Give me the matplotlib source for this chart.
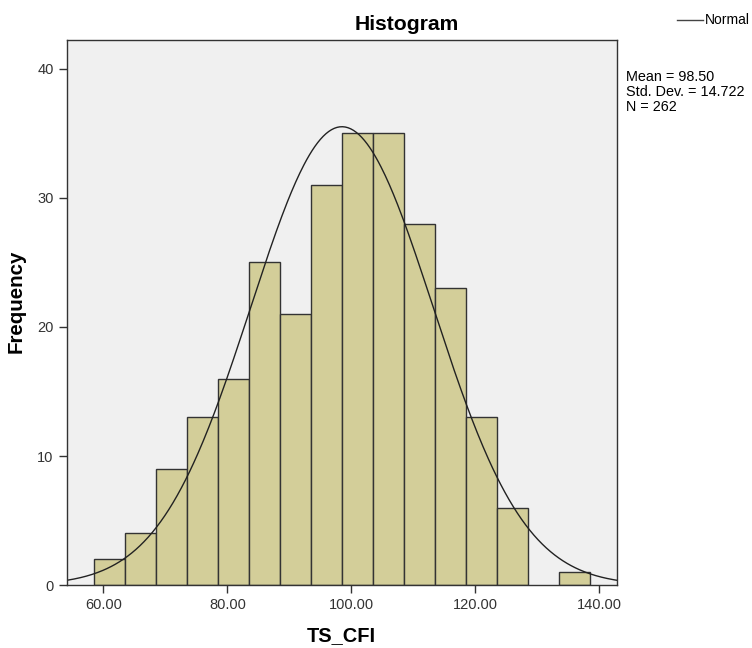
import numpy as np
import matplotlib
matplotlib.use("Agg")
import matplotlib.pyplot as plt

plt.rcParams['font.family'] = ['Liberation Sans', 'DejaVu Sans']

bin_edges = [58.5 + 5 * i for i in range(17)]
counts = [2, 4, 9, 13, 16, 25, 21, 31, 35, 35, 28, 23, 13, 6, 0, 1]
mean = 98.50
std = 14.722
n = 262
xticks = [60, 80, 100, 120, 140]
xticklabels = ["60.00", "80.00", "100.00", "120.00", "140.00"]
yticks = [0, 10, 20, 30, 40]

fig = plt.figure(figsize=(7.52, 6.48), dpi=100)
ax = fig.add_axes([0.089, 0.097, 0.731, 0.841])
ax.set_facecolor('#F0F0F0')

lefts = bin_edges[:-1]
widths = np.diff(bin_edges)
for l, w, c in zip(lefts, widths, counts):
    if c > 0:
        ax.bar(l, c, width=w, align='edge', color='#D3CE99', edgecolor='#333333', linewidth=1.0)

xs = np.linspace(54.1, 142.85, 400)
binw = 5
ys = n * binw / (std * np.sqrt(2 * np.pi)) * np.exp(-0.5 * ((xs - mean) / std) ** 2)
ax.plot(xs, ys, color='#222222', linewidth=1.0)

ax.set_xlim(54.1, 142.85)
ax.set_ylim(0, 42.2)
ax.set_xticks(xticks)
ax.set_xticklabels(xticklabels, fontsize=10.5, color='#333333')
ax.set_yticks(yticks)
ax.set_yticklabels([str(v) for v in yticks], fontsize=10.5, color='#333333')
ax.tick_params(direction='out', length=6, width=1, color='#333333', top=False, right=False)
for s in ax.spines.values():
    s.set_color('#333333')
    s.set_linewidth(1)

fig.text(407 / 752, 1 - 24 / 648, "Histogram", fontsize=15.2, fontweight='bold',
         ha='center', va='center')
ax.set_xlabel("TS_CFI", fontsize=14.4, fontweight='bold', labelpad=10)
ax.set_ylabel("Frequency", fontsize=14.8, fontweight='bold')
ax.yaxis.set_label_coords(-0.076, 0.521)

# legend
fig.lines.append(plt.Line2D([677 / 752, 703 / 752], [1 - 20 / 648, 1 - 20 / 648],
                            transform=fig.transFigure, color='#444444', linewidth=1))
fig.text(705 / 752, 1 - 20 / 648, "Normal", fontsize=10, va='center', ha='left')

fig.text(626 / 752, 1 - 92 / 648, f"Mean = {mean:.2f}\nStd. Dev. = {std:.3f}\nN = {n}",
         fontsize=10.4, va='center', ha='left', linespacing=1.08)

fig.savefig("out.png", dpi=100)
